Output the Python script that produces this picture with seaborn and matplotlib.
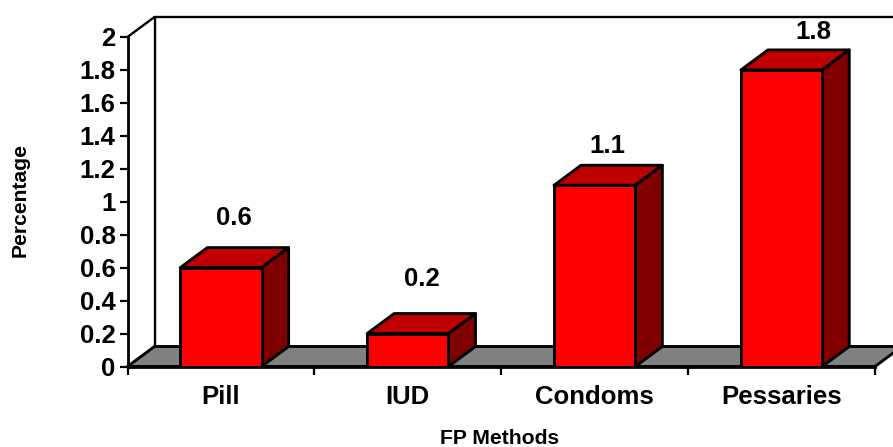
import matplotlib
matplotlib.use('Agg')
import matplotlib.pyplot as plt
import seaborn as sns
import pandas as pd
from matplotlib.patches import Polygon
from matplotlib.transforms import Affine2D

methods = ['Pill', 'IUD', 'Condoms', 'Pessaries']
percent = [0.6, 0.2, 1.1, 1.8]
y_ticks = [0, 0.2, 0.4, 0.6, 0.8, 1, 1.2, 1.4, 1.6, 1.8, 2]
y_labels = ['0', '0.2', '0.4', '0.6', '0.8', '1', '1.2', '1.4', '1.6', '1.8', '2']
# value labels were hand placed in the original, pixels from the bar's top centre
label_dx = [13, 14, 13, 32]
label_dy = [50, 55, 39, 38]

sns.set_theme(style='white')
plt.rcParams['font.family'] = ['Liberation Sans', 'DejaVu Sans']

W, H = 893, 447
fig = plt.figure(figsize=(W / 100, H / 100), dpi=100)
ax = fig.add_axes([127.5 / W, (H - 366.5) / H, 747.5 / W, 329.5 / H])

df = pd.DataFrame({'method': methods, 'percent': percent})
sns.barplot(data=df, x='method', y='percent', color='#ff0000', saturation=1,
            width=0.435, edgecolor='black', linewidth=2.1, ax=ax, zorder=5)
ax.set_xlim(-0.5, 3.5)
ax.set_ylim(0, 2)

# fake 3d depth, in pixels
dx, dy = 27, 20
depth = Affine2D().translate(dx, dy)


def face(pts, color, z):
    ax.add_patch(Polygon(pts, closed=True, facecolor=color, edgecolor='black', linewidth=2.1,
                         joinstyle='round', transform=ax.transData, clip_on=False, zorder=z))


def shifted(x, y):
    # data position moved back by the depth offset
    px = ax.transData.transform((x, y))
    return ax.transData.inverted().transform(depth.transform(px))


# floor and back wall
x0, x1 = ax.get_xlim()
floor = [(x0, 0), (x1, 0), tuple(shifted(x1, 0)), tuple(shifted(x0, 0))]
face(floor, '#808080', 1)
ax.plot([shifted(x0, 0)[0]] * 2, [shifted(x0, 0)[1], shifted(x0, 2)[1]], color='black', lw=1.7,
        clip_on=False, zorder=1)
ax.plot([x0, shifted(x0, 2)[0]], [2, shifted(x0, 2)[1]], color='black', lw=1.7, clip_on=False, zorder=1)
ax.plot([shifted(x0, 2)[0], shifted(x1, 2)[0]], [shifted(x0, 2)[1]] * 2, color='black', lw=1.7,
        clip_on=False, zorder=1)

# bar tops and sides
for bar, val, lx, ly in zip(ax.patches, percent, label_dx, label_dy):
    left, right = bar.get_x(), bar.get_x() + bar.get_width()
    face([(left, val), (right, val), tuple(shifted(right, val)), tuple(shifted(left, val))], '#c00000', 3)
    face([(right, 0), (right, val), tuple(shifted(right, val)), tuple(shifted(right, 0))], '#800000', 3)
    ax.annotate(str(val), (bar.get_x() + bar.get_width() / 2, val), xytext=(lx, ly),
                textcoords='offset pixels', ha='center', va='center', fontsize=18.5, fontweight='bold',
                color='black', zorder=6, annotation_clip=False)

for s in ['top', 'right']:
    ax.spines[s].set_visible(False)
for s in ['left', 'bottom']:
    ax.spines[s].set_linewidth(2)
    ax.spines[s].set_color('black')
    ax.spines[s].set_zorder(7)

ax.set_yticks(y_ticks)
ax.set_yticklabels(y_labels, fontsize=18.5, fontweight='bold')
ax.set_xticks([-0.5, 0.5, 1.5, 2.5, 3.5])
ax.set_xticklabels([])
ax.set_xticks([0, 1, 2, 3], minor=True)
ax.set_xticklabels(methods, minor=True, fontsize=18.5, fontweight='bold')
ax.tick_params(axis='y', which='major', left=True, length=5.5, width=1.6, color='black', pad=3, labelcolor='black')
ax.tick_params(axis='x', which='major', bottom=True, length=5.5, width=1.6, color='black')
ax.tick_params(axis='x', which='minor', bottom=False, pad=9, labelcolor='black')
ax.set_xlabel('')
ax.set_ylabel('')

fig.text(500 / W, 1 - 439 / H, 'FP Methods', ha='center', va='center', fontsize=15.2, fontweight='bold', color='black')
fig.text(20 / W, 1 - 200 / H, 'Percentage', rotation=90, ha='center', va='center', fontsize=15.2,
         fontweight='bold', color='black')

fig.savefig('out.png', dpi=100, facecolor='white')
